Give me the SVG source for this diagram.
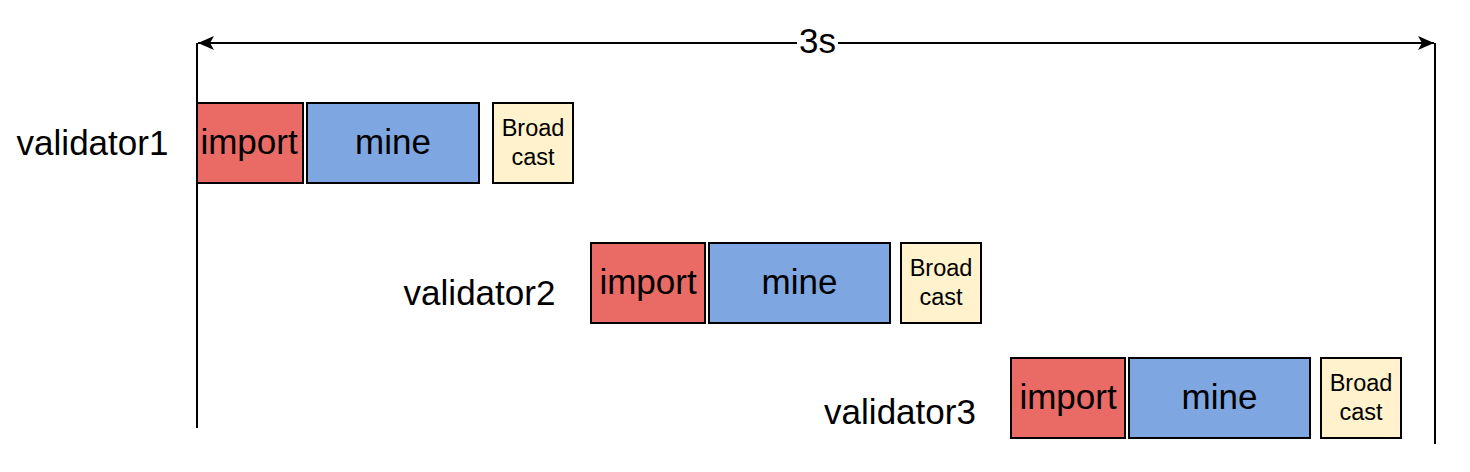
<svg xmlns="http://www.w3.org/2000/svg" width="1470" height="472" viewBox="0 0 1470 472">
<style>
text{font-family:"Liberation Sans",Arial,sans-serif;fill:#000;text-anchor:middle;}
.big{font-size:35px;}
.small{font-size:23.5px;}
.imp{fill:#EA6B66;stroke:#000;stroke-width:2;}
.mine{fill:#7EA6E0;stroke:#000;stroke-width:2;}
.bc{fill:#FFF2CC;stroke:#000;stroke-width:2;}
.ln{stroke:#000;stroke-width:2;fill:none;}
</style>
<defs>
<marker id="ah" markerWidth="18" markerHeight="16" refX="16" refY="8" orient="auto-start-reverse" markerUnits="userSpaceOnUse">
<path d="M0,1 L16,8 L0,15 L4,8 Z" fill="#000"/>
</marker>
</defs>
<rect width="1470" height="472" fill="#fff"/>
<g id="connectors">
<line class="ln" x1="197" y1="43" x2="197" y2="428"/>
<line class="ln" x1="1435" y1="43" x2="1435" y2="444"/>
<line class="ln" x1="198" y1="43" x2="1434" y2="43" marker-start="url(#ah)" marker-end="url(#ah)"/>
<rect x="797" y="26" width="41" height="32" fill="#fff"/>
<text class="big" x="817.5" y="53">3s</text>
</g>
<g id="label1"><text class="big" x="92.5" y="155">validator1</text></g>
<g id="label2"><text class="big" x="479.5" y="305">validator2</text></g>
<g id="label3"><text class="big" x="900" y="424">validator3</text></g>
<g id="import1"><rect class="imp" x="197" y="103" width="106" height="80"/><text class="big" x="249" y="154">import</text></g>
<g id="mine1"><rect class="mine" x="307" y="103" width="172" height="80"/><text class="big" x="393" y="154">mine</text></g>
<g id="bc1"><rect class="bc" x="493" y="103" width="80" height="80"/><text class="small" x="533" y="136">Broad</text><text class="small" x="533" y="165">cast</text></g>
<g id="import2"><rect class="imp" x="591" y="243" width="114" height="80"/><text class="big" x="648" y="294">import</text></g>
<g id="mine2"><rect class="mine" x="709" y="243" width="181" height="80"/><text class="big" x="799.5" y="294">mine</text></g>
<g id="bc2"><rect class="bc" x="901" y="243" width="80" height="80"/><text class="small" x="941" y="276">Broad</text><text class="small" x="941" y="305">cast</text></g>
<g id="import3"><rect class="imp" x="1011" y="358" width="114" height="80"/><text class="big" x="1068" y="409">import</text></g>
<g id="mine3"><rect class="mine" x="1129" y="358" width="181" height="80"/><text class="big" x="1219.5" y="409">mine</text></g>
<g id="bc3"><rect class="bc" x="1321" y="358" width="80" height="80"/><text class="small" x="1361" y="391">Broad</text><text class="small" x="1361" y="420">cast</text></g>
</svg>
